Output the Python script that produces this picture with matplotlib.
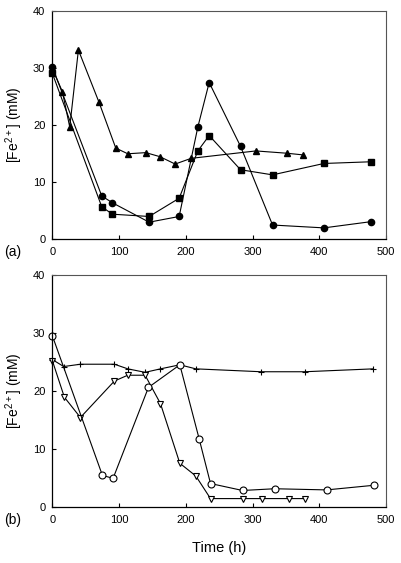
import matplotlib
matplotlib.use('Agg')
import matplotlib.pyplot as plt

plt.rcParams['font.family'] = ['Liberation Sans', 'DejaVu Sans']
plt.rcParams['mathtext.default'] = 'regular'

# ── Panel (a) ────────────────────────────────────────────────────────────────
tri_x  = [0, 15, 26, 39, 70, 95, 113, 140, 161, 184, 208, 305, 351, 376]
tri_y  = [29.8, 25.8, 19.6, 33.1, 23.9, 15.9, 14.9, 15.1, 14.4, 13.1, 14.1, 15.4, 15.0, 14.7]
circ_x = [0, 74, 90, 145, 190, 218, 235, 282, 330, 407, 478]
circ_y = [30.1, 7.5, 6.3, 2.9, 3.9, 19.6, 27.4, 16.2, 2.4, 1.9, 3.0]
sq_x   = [0, 74, 90, 145, 190, 218, 235, 282, 330, 407, 478]
sq_y   = [29.0, 5.6, 4.3, 3.9, 7.1, 15.4, 18.1, 12.1, 11.2, 13.2, 13.5]

# ── Panel (b) ────────────────────────────────────────────────────────────────
ocirc_x = [0, 75, 91, 144, 191, 220, 237, 285, 333, 411, 482]
ocirc_y = [29.5, 5.4, 4.9, 20.6, 24.5, 11.7, 4.0, 2.8, 3.1, 2.9, 3.7]
vtri_x  = [0, 18, 42, 93, 113, 139, 162, 191, 215, 237, 285, 314, 354, 378]
vtri_y  = [25.2, 18.9, 15.4, 21.7, 22.7, 22.7, 17.8, 7.5, 5.3, 1.4, 1.4, 1.4, 1.4, 1.4]
plus_x  = [0, 17, 42, 93, 113, 139, 162, 191, 215, 313, 378, 481]
plus_y  = [25.4, 24.2, 24.6, 24.6, 23.8, 23.2, 23.8, 24.5, 23.8, 23.3, 23.3, 23.8]

x_ticks = [0, 100, 200, 300, 400, 500]
y_ticks = [0, 10, 20, 30, 40]
y_label = r'[Fe$^{2+}$] (mM)'


def style_axes(ax, tag):
    ax.set_xlim(0, 500)
    ax.set_ylim(0, 40)
    ax.set_xticks(x_ticks)
    ax.set_yticks(y_ticks)
    ax.tick_params(direction='in', length=3, width=0.8, labelsize=8)
    ax.tick_params(axis='x', pad=6)
    ax.tick_params(axis='y', pad=5)
    for side in ['top', 'right']:
        ax.spines[side].set_color('#555555')
        ax.spines[side].set_linewidth(0.8)
    for side in ['left', 'bottom']:
        ax.spines[side].set_linewidth(0.9)
    ax.set_ylabel(y_label, fontsize=10, va='center')
    ax.yaxis.set_label_coords(-0.115, 0.5)
    ax.text(-0.118, -0.058, tag, transform=ax.transAxes, fontsize=10,
            ha='center', va='center')


fig = plt.figure(figsize=(4.02, 5.63), dpi=100)
ax_a = fig.add_axes([0.1303, 0.576, 0.8299, 0.405])
ax_b = fig.add_axes([0.1303, 0.100, 0.8299, 0.4115])

line_kw = dict(color='black', lw=0.8, clip_on=False)

ax_a.plot(tri_x, tri_y, marker='^', ms=5, mfc='black', mec='black', **line_kw)
ax_a.plot(sq_x, sq_y, marker='s', ms=4.5, mfc='black', mec='black', **line_kw)
ax_a.plot(circ_x, circ_y, marker='o', ms=4.5, mfc='black', mec='black', **line_kw)
style_axes(ax_a, '(a)')

ax_b.plot(plus_x, plus_y, marker='+', ms=5, mew=0.8, **line_kw)
ax_b.plot(vtri_x, vtri_y, marker='v', ms=5, mfc='white', mec='black', mew=0.8, **line_kw)
ax_b.plot(ocirc_x, ocirc_y, marker='o', ms=5, mfc='white', mec='black', mew=0.8, **line_kw)
style_axes(ax_b, '(b)')

fig.text(0.5455, 0.027, 'Time (h)', fontsize=10.5, ha='center', va='center')

plt.savefig('out.png', dpi=100)
plt.close()
